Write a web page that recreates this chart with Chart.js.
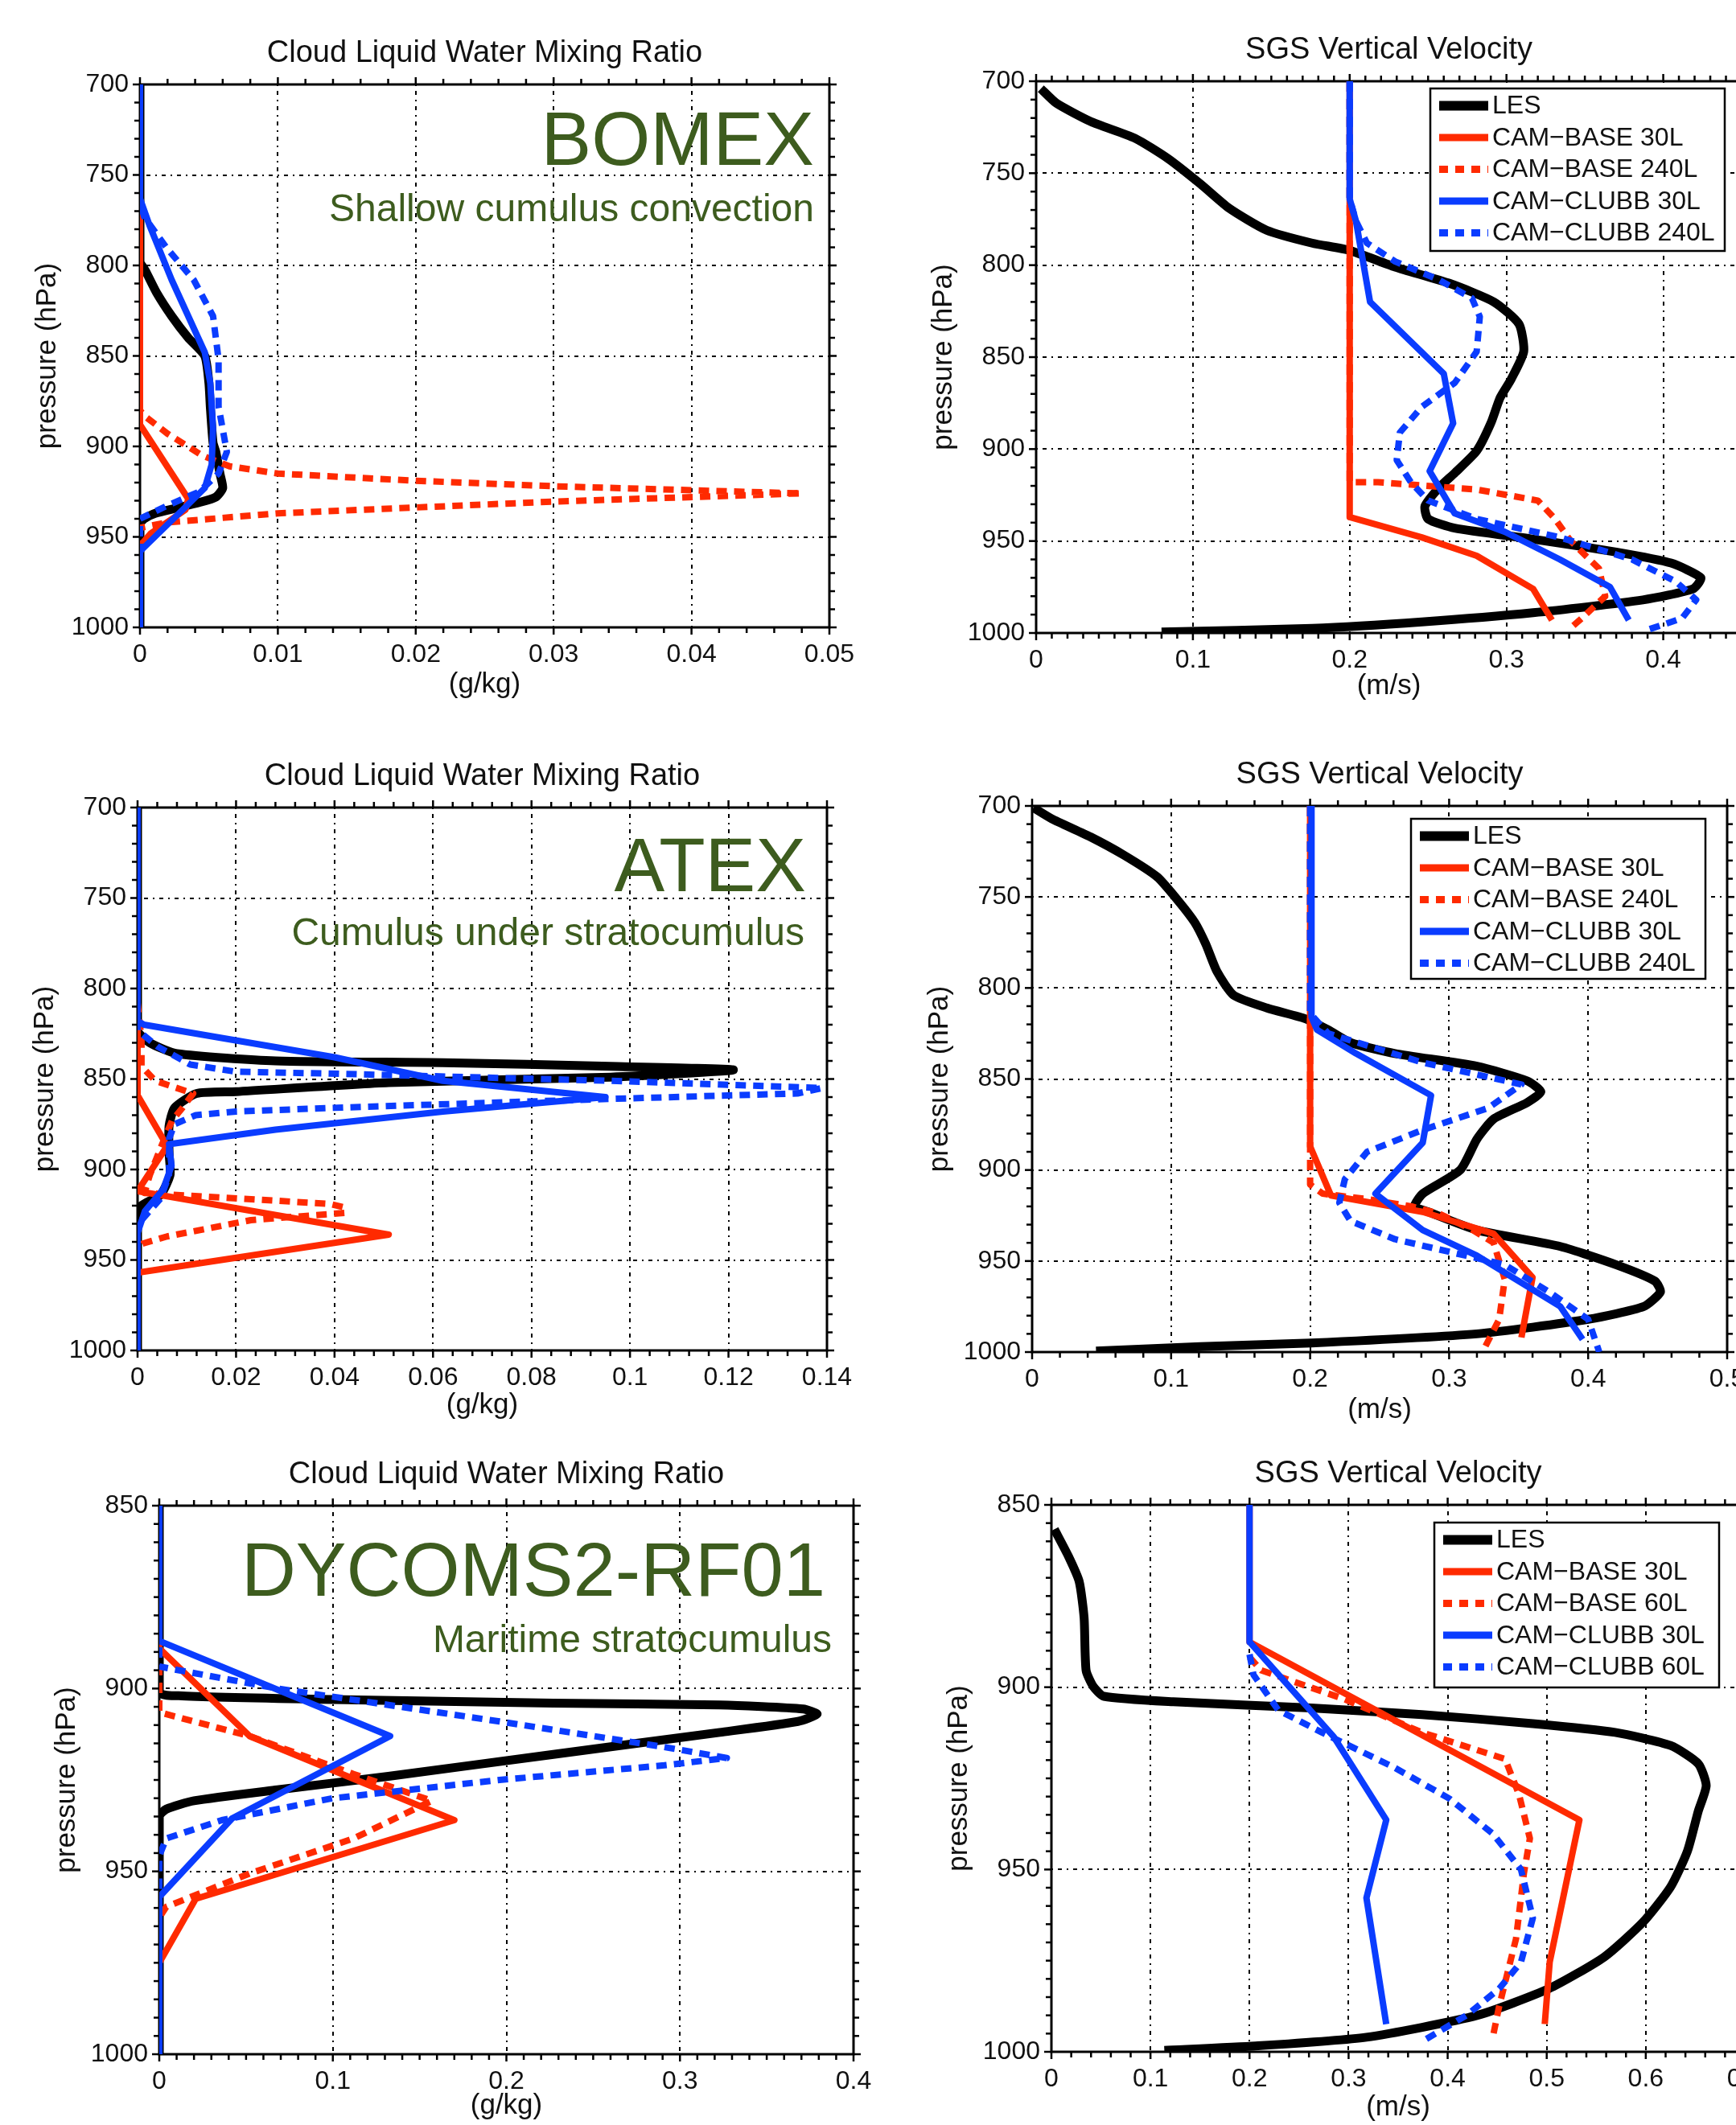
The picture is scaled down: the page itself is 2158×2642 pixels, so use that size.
<!DOCTYPE html>
<html>
<head>
<meta charset="utf-8">
<script src="https://cdn.jsdelivr.net/npm/chart.js@4.4.0/dist/chart.umd.min.js"></script>
<style>
  html, body { margin: 0; padding: 0; background: #fff; }
  body { width: 2158px; height: 2642px; overflow: hidden; position: relative; }
  canvas { position: absolute; }
</style>
</head>
<body>
<canvas id="c1"></canvas>
<canvas id="c2"></canvas>
<canvas id="c3"></canvas>
<canvas id="c4"></canvas>
<canvas id="c5"></canvas>
<canvas id="c6"></canvas>
<script>
// ---- data: [value, pressure hPa] ----
const labels240 = ['LES', 'CAM\u2212BASE 30L', 'CAM\u2212BASE 240L', 'CAM\u2212CLUBB 30L', 'CAM\u2212CLUBB 240L'];
const labels60 = ['LES', 'CAM\u2212BASE 30L', 'CAM\u2212BASE 60L', 'CAM\u2212CLUBB 30L', 'CAM\u2212CLUBB 60L'];

// BOMEX cloud liquid water (g/kg)
const bomexQlLes = [[0,700],[0,780],[0,798],[0.0004,803],[0.0012,815],[0.0023,828],[0.0035,840],[0.0047,850],[0.005,865],[0.0051,878],[0.0053,898],[0.0055,903],[0.0058,915],[0.006,923],[0.0055,928],[0.0043,931],[0.0027,934],[0.0011,937],[0.0003,940],[0,943],[0,1000]];
const bomexQlBase30 = [[0,700],[0,888],[0.0035,929],[0.0033,935],[0.0008,948],[0,955],[0,1000]];
const bomexQlBase240 = [[0,700],[0,880],[0.0003,883],[0.002,893],[0.0045,905],[0.0065,911],[0.01,915],[0.02,919],[0.03,922],[0.048,926],[0.03,930.5],[0.01,937],[0.002,942],[0,945],[0,1000]];
const bomexQlClubb30 = [[0,700],[0,763],[0.0007,778],[0.0023,808],[0.0047,848],[0.0051,865],[0.0053,890],[0.0052,910],[0.0047,923],[0.0031,935],[0,958],[0,1000]];
const bomexQlClubb240 = [[0,700],[0,765],[0.0003,773],[0.0019,790],[0.0039,808],[0.0053,828],[0.0057,852],[0.0057,878],[0.0063,903],[0.0057,915],[0.0043,925],[0.0019,933],[0,940],[0,1000]];

// BOMEX SGS vertical velocity (m/s)
const bomexWLes = [[0.003,704],[0.013,712],[0.035,722],[0.063,731],[0.084,742],[0.105,756],[0.123,769],[0.147,781],[0.176,788],[0.2,792],[0.229,801],[0.264,810],[0.292,820],[0.308,832],[0.311,847],[0.303,862],[0.296,872],[0.29,886],[0.281,901],[0.267,913],[0.257,921],[0.248,931],[0.25,938],[0.267,943],[0.317,949],[0.37,956],[0.405,962],[0.424,970],[0.419,976],[0.387,982],[0.317,989],[0.246,994],[0.176,997.5],[0.08,999.5]];
const bomexWBase30 = [[0.2,700],[0.2,937],[0.246,948],[0.281,958],[0.317,976],[0.329,993]];
const bomexWBase240 = [[0.2,700],[0.2,918],[0.218,918],[0.281,922],[0.32,928],[0.331,938],[0.341,950],[0.359,965],[0.363,980],[0.348,992],[0.34,998]];
const bomexWClubb30 = [[0.2,700],[0.2,764],[0.204,776],[0.213,820],[0.26,859],[0.266,886],[0.251,912],[0.267,935],[0.299,945],[0.334,960],[0.366,975],[0.378,993]];
const bomexWClubb240 = [[0.2,700],[0.2,764],[0.204,776],[0.211,788],[0.229,798],[0.257,808],[0.278,818],[0.283,828],[0.281,847],[0.267,864],[0.246,877],[0.232,891],[0.23,906],[0.239,918],[0.25,928],[0.281,938],[0.334,948],[0.38,960],[0.408,972],[0.421,982],[0.412,992],[0.391,998]];

// ATEX cloud liquid water (g/kg)
const atexQlLes = [[0,700],[0,823],[0.0025,830],[0.008,836],[0.028,840],[0.062,841],[0.096,843],[0.121,845],[0.096,849],[0.051,852],[0.02,857],[0.012,858],[0.0075,866],[0.0064,876],[0.0064,891],[0.0066,903],[0.0047,914],[0.002,918],[0.0003,921],[0,925],[0,1000]];
const atexQlBase30 = [[0,700],[0,859],[0.006,887],[0,912],[0.051,936],[0,957],[0,1000]];
const atexQlBase240 = [[0,700],[0,808],[0.0008,828],[0.0008,843],[0.0036,851],[0.0113,858],[0.0091,866],[0.007,873],[0.0047,888],[0.0025,903],[0.0014,913],[0.017,915.5],[0.039,919],[0.042,921],[0.042,924],[0.023,928],[0.006,937],[0.001,941],[0,944],[0,1000]];
const atexQlClubb30 = [[0,700],[0,818],[0.0013,820],[0.04,838],[0.062,851],[0.095,860],[0.062,868],[0.028,878],[0.0064,886],[0.0069,898],[0.0052,911],[0.0015,923],[0,935],[0,1000]];
const atexQlClubb240 = [[0,700],[0,823],[0.004,832],[0.0107,842],[0.02,846],[0.039,847],[0.096,851],[0.139,855],[0.134,858],[0.096,861],[0.039,866],[0.02,868],[0.0118,870],[0.0075,875],[0.0064,883],[0.0064,903],[0.0047,916],[0.0008,928],[0,933],[0,1000]];

// ATEX SGS vertical velocity (m/s)
const atexWLes = [[0.001,701],[0.014,707],[0.042,717],[0.066,727],[0.09,739],[0.105,752],[0.117,764],[0.125,776],[0.133,791],[0.145,804],[0.169,811],[0.197,817],[0.213,823],[0.229,830],[0.261,836],[0.32,843],[0.356,851],[0.366,857],[0.356,863],[0.332,872],[0.32,883],[0.308,900],[0.281,913],[0.275,920],[0.285,923],[0.32,933],[0.38,942],[0.42,952],[0.448,961],[0.452,967],[0.44,975],[0.4,982],[0.32,990],[0.201,995],[0.121,997],[0.046,999.5]];
const atexWBase30 = [[0.2,700],[0.2,887],[0.215,914],[0.281,923],[0.332,935],[0.36,959],[0.352,992]];
const atexWBase240 = [[0.2,700],[0.2,908],[0.209,913],[0.241,916],[0.273,920],[0.293,924],[0.317,933],[0.332,940],[0.34,960],[0.336,982],[0.324,1000]];
const atexWClubb30 = [[0.201,700],[0.201,816],[0.205,823],[0.233,836],[0.287,859],[0.281,885],[0.247,913],[0.281,933],[0.32,947],[0.38,975],[0.396,993]];
const atexWClubb240 = [[0.2,700],[0.2,814],[0.213,825],[0.281,841],[0.352,853],[0.328,866],[0.281,878],[0.241,890],[0.225,905],[0.221,918],[0.229,928],[0.261,938],[0.34,952],[0.372,967],[0.4,982],[0.408,1000]];

// DYCOMS2-RF01 cloud liquid water (g/kg)
const dycomsQlLes = [[0,850],[0,901],[0.013,902],[0.1,903],[0.227,904],[0.323,904.5],[0.371,905.6],[0.379,907],[0.368,909],[0.323,912],[0.227,918],[0.132,924],[0.068,927.7],[0.02,930.7],[0.004,933],[0,935],[0,1000]];
const dycomsQlBase30 = [[0,850],[0,889],[0.052,913],[0.17,936],[0.021,957.5],[0,975],[0,1000]];
const dycomsQlBase60 = [[0,850],[0,906.5],[0.052,913],[0.112,923.4],[0.157,930.7],[0.112,941],[0.052,950.6],[0.004,959.7],[0,962.7],[0,1000]];
const dycomsQlClubb30 = [[0,850],[0,887],[0.133,913],[0.042,935.5],[0,957],[0,1000]];
const dycomsQlClubb60 = [[0,850],[0,894],[0.068,900],[0.196,909],[0.291,916],[0.327,919],[0.291,921],[0.196,925],[0.1,930],[0.036,936],[0.004,941],[0,945.8],[0,1000]];

// DYCOMS2-RF01 SGS vertical velocity (m/s)
const dycomsWLes = [[0.003,856.7],[0.017,864],[0.028,871],[0.033,881],[0.035,895.4],[0.042,899.7],[0.053,902.5],[0.123,904],[0.262,905.7],[0.374,907.5],[0.486,910],[0.569,912.4],[0.625,916],[0.653,921],[0.661,927],[0.653,934],[0.642,945],[0.625,954.8],[0.597,964.5],[0.558,974],[0.502,982.7],[0.43,990],[0.318,996],[0.206,998.4],[0.114,999.6]];
const dycomsWBase30 = [[0.2,850],[0.2,887.6],[0.533,936.4],[0.503,975.4],[0.498,992.4]];
const dycomsWBase60 = [[0.2,891.8],[0.212,895.4],[0.296,903.3],[0.374,912.4],[0.458,919.7],[0.472,929.4],[0.483,941.5],[0.477,951],[0.469,969],[0.452,987.5],[0.446,995.4]];
const dycomsWClubb30 = [[0.2,850],[0.2,887.6],[0.285,913.6],[0.338,936.4],[0.318,957.8],[0.338,992.4]];
const dycomsWClubb60 = [[0.2,891],[0.204,896.6],[0.229,906.3],[0.273,912.4],[0.346,922],[0.402,930.6],[0.446,940.3],[0.474,950],[0.486,963.3],[0.474,975.4],[0.452,982.7],[0.419,990],[0.374,997.2]];

// axis ranges: [min, max, major step, minor step]
const qlBomexX = [0, 0.05, 0.01, 0.002];
const qlAtexX = [0, 0.14, 0.02, 0.004];
const qlDycomsX = [0, 0.4, 0.1, 0.01];
const wBomexX = [0, 0.45, 0.1, 0.01];
const wAtexX = [0, 0.5, 0.1, 0.02];
const wDycomsX = [0, 0.7, 0.1, 0.02];
const pDeepY = [700, 1000, 50, 10];
const pShallowY = [850, 1000, 50, 5];

// ---- styling ----
const RED = '#ff2a00', BLUE = '#0a3cff', GREEN = '#3d5c1e', INK = '#111';
const FONT = "'Liberation Sans', Arial, Helvetica, sans-serif";
Chart.defaults.font.family = FONT;
Chart.defaults.color = INK;

function line(label, pts, color, dashed, width, order, tension) {
  return {
    label,
    data: pts.map(([x, y]) => ({ x, y })),
    showLine: true,
    borderColor: color,
    borderWidth: width,
    borderDash: dashed ? [13, 9] : [],
    borderJoinStyle: 'round',
    pointRadius: 0,
    fill: false,
    tension: tension || 0,
    order
  };
}

function profileSet(names, les, b30, bHi, c30, cHi) {
  return [
    line(names[0], les, '#000', false, 11, 5, 0.2),
    line(names[1], b30, RED, false, 8, 4),
    line(names[2], bHi, RED, true, 8, 3),
    line(names[3], c30, BLUE, false, 8, 2),
    line(names[4], cHi, BLUE, true, 8, 1)
  ];
}

// frame with outward major/minor ticks on all four sides
const framePlugin = {
  id: 'frame',
  beforeDatasetsDraw(chart, args, opts) {
    const { ctx, chartArea: a, scales: { x, y } } = chart;
    const steps = (min, max, step) => {
      const n = Math.round((max - min) / step), out = [];
      for (let i = 0; i <= n; i++) out.push(min + i * step);
      return out;
    };
    const isMajor = (v, min, major) => Math.abs((v - min) / major - Math.round((v - min) / major)) < 1e-6;
    ctx.save();
    ctx.setLineDash([]);
    ctx.strokeStyle = '#000';
    ctx.lineWidth = 2.5;
    const seg = (x1, y1, x2, y2) => { ctx.beginPath(); ctx.moveTo(x1, y1); ctx.lineTo(x2, y2); ctx.stroke(); };
    steps(x.min, x.max, opts.x[3]).forEach(v => {
      const px = x.getPixelForValue(v);
      const len = isMajor(v, x.min, opts.x[2]) ? 9 : 7;
      seg(px, a.bottom, px, a.bottom + len);
      seg(px, a.top, px, a.top - len);
    });
    steps(y.min, y.max, opts.y[3]).forEach(v => {
      const py = y.getPixelForValue(v);
      const len = isMajor(v, y.min, opts.y[2]) ? 9 : 7;
      seg(a.left, py, a.left - len, py);
      seg(a.right, py, a.right + len, py);
    });
    ctx.lineWidth = 3;
    ctx.strokeRect(a.left, a.top, a.right - a.left, a.bottom - a.top);
    ctx.restore();
  }
};

// green case labels and boxed legend
const notesPlugin = {
  id: 'notes',
  afterDraw(chart, args, opts) {
    const { ctx, chartArea: a } = chart;
    ctx.save();
    (opts.texts || []).forEach(t => {
      ctx.font = t.size + 'px ' + FONT;
      ctx.fillStyle = GREEN;
      ctx.textAlign = 'right';
      ctx.textBaseline = 'alphabetic';
      ctx.fillText(t.text, a.right - t.dx, a.top + t.dy);
    });
    const L = opts.legend;
    if (L) {
      const left = a.right - L.dx, top = a.top + L.dy;
      ctx.fillStyle = '#fff';
      ctx.fillRect(left, top, L.w, L.h);
      ctx.strokeStyle = '#000';
      ctx.lineWidth = 2.5;
      ctx.strokeRect(left, top, L.w, L.h);
      chart.data.datasets.forEach((ds, i) => {
        const yy = top + 21.5 + i * 39.5;
        ctx.strokeStyle = ds.borderColor;
        ctx.lineWidth = i === 0 ? 12 : 9;
        ctx.setLineDash(ds.borderDash.length ? [11, 9] : []);
        ctx.beginPath();
        ctx.moveTo(left + 11, yy);
        ctx.lineTo(left + 72, yy);
        ctx.stroke();
        ctx.setLineDash([]);
        ctx.fillStyle = INK;
        ctx.font = '32px ' + FONT;
        ctx.textAlign = 'left';
        ctx.textBaseline = 'middle';
        ctx.fillText(ds.label, left + 77, yy + 1);
      });
    }
    ctx.restore();
  }
};

const fmt = v => String(Math.round(v * 1e6) / 1e6);

function makePanel(id, g, datasets, xr, yr, notes) {
  const canvas = document.getElementById(id);
  const top = g.T - 80;
  const w = g.R - g.cx + 60, h = g.B - top + 100;
  canvas.width = w; canvas.height = h;
  canvas.style.left = g.cx + 'px'; canvas.style.top = top + 'px';
  canvas.style.width = w + 'px'; canvas.style.height = h + 'px';
  const tickFont = { family: FONT, size: 32 };
  const axisFont = { family: FONT, size: 35 };
  const gridDash = [2, 6, 5, 6];
  return new Chart(canvas, {
    type: 'scatter',
    data: { datasets },
    options: {
      responsive: false,
      animation: false,
      devicePixelRatio: 1,
      layout: { padding: { left: 0, right: 60, top: 0, bottom: 0 } },
      plugins: {
        legend: { display: false },
        tooltip: { enabled: false },
        title: {
          display: true, text: g.title, fullSize: false, color: INK,
          font: { family: FONT, size: 38, weight: 'normal' },
          padding: { top: 18.7, bottom: 15.7 }
        },
        frame: { x: xr, y: yr },
        notes
      },
      scales: {
        x: {
          type: 'linear', position: 'bottom', min: xr[0], max: xr[1],
          afterFit: s => { s.height = 100; },
          ticks: { stepSize: xr[2], includeBounds: false, padding: 15, maxRotation: 0, autoSkip: false, font: tickFont, color: INK, callback: fmt },
          grid: { color: '#000', lineWidth: 2, drawTicks: false },
          border: { display: false, dash: gridDash },
          title: { display: true, text: g.xTitle, color: INK, font: axisFont, padding: { top: 0, bottom: 79 - g.xt } }
        },
        y: {
          type: 'linear', position: 'left', reverse: true, min: yr[0], max: yr[1],
          afterFit: s => { s.width = g.L - g.cx; },
          ticks: { stepSize: yr[2], includeBounds: false, padding: 14, autoSkip: false, font: tickFont, color: INK, callback: fmt },
          grid: { color: '#000', lineWidth: 2, drawTicks: false },
          border: { display: false, dash: gridDash },
          title: { display: true, text: 'pressure (hPa)', color: INK, font: axisFont, padding: { top: g.L - g.cx - 136, bottom: 0 } }
        }
      }
    },
    plugins: [framePlugin, notesPlugin]
  });
}

const qlTitle = 'Cloud Liquid Water Mixing Ratio', wTitle = 'SGS Vertical Velocity';

makePanel('c1', { L: 174, T: 105, R: 1031, B: 780, cx: 0, xt: 71, title: qlTitle, xTitle: '(g/kg)' },
  profileSet(labels240, bomexQlLes, bomexQlBase30, bomexQlBase240, bomexQlClubb30, bomexQlClubb240),
  qlBomexX, pDeepY,
  { texts: [{ text: 'BOMEX', size: 94, dx: 19, dy: 100 }, { text: 'Shallow cumulus convection', size: 48, dx: 19, dy: 170 }] });

makePanel('c2', { L: 1288, T: 101, R: 2165, B: 787, cx: 1138, xt: 66, title: wTitle, xTitle: '(m/s)' },
  profileSet(labels240, bomexWLes, bomexWBase30, bomexWBase240, bomexWClubb30, bomexWClubb240),
  wBomexX, pDeepY,
  { legend: { dx: 387, dy: 9, w: 366, h: 202 } });

makePanel('c3', { L: 171, T: 1004, R: 1028, B: 1679, cx: 0, xt: 68, title: qlTitle, xTitle: '(g/kg)' },
  profileSet(labels240, atexQlLes, atexQlBase30, atexQlBase240, atexQlClubb30, atexQlClubb240),
  qlAtexX, pDeepY,
  { texts: [{ text: 'ATEX', size: 94, dx: 26, dy: 104 }, { text: 'Cumulus under stratocumulus', size: 48, dx: 28, dy: 171 }] });

makePanel('c4', { L: 1283, T: 1002, R: 2147, B: 1681, cx: 1133, xt: 72, title: wTitle, xTitle: '(m/s)' },
  profileSet(labels240, atexWLes, atexWBase30, atexWBase240, atexWClubb30, atexWClubb240),
  wAtexX, pDeepY,
  { legend: { dx: 393, dy: 16, w: 366, h: 199 } });

makePanel('c5', { L: 198, T: 1872, R: 1061, B: 2554, cx: 0, xt: 64, title: qlTitle, xTitle: '(g/kg)' },
  profileSet(labels60, dycomsQlLes, dycomsQlBase30, dycomsQlBase60, dycomsQlClubb30, dycomsQlClubb60),
  qlDycomsX, pShallowY,
  { texts: [{ text: 'DYCOMS2-RF01', size: 94, dx: 35, dy: 112 }, { text: 'Maritime stratocumulus', size: 48, dx: 27, dy: 182 }] });

makePanel('c6', { L: 1307, T: 1871, R: 2169, B: 2551, cx: 1157, xt: 69, title: wTitle, xTitle: '(m/s)' },
  profileSet(labels60, dycomsWLes, dycomsWBase30, dycomsWBase60, dycomsWClubb30, dycomsWClubb60),
  wDycomsX, pShallowY,
  { legend: { dx: 386, dy: 22, w: 354, h: 205 } });
</script>
</body>
</html>
